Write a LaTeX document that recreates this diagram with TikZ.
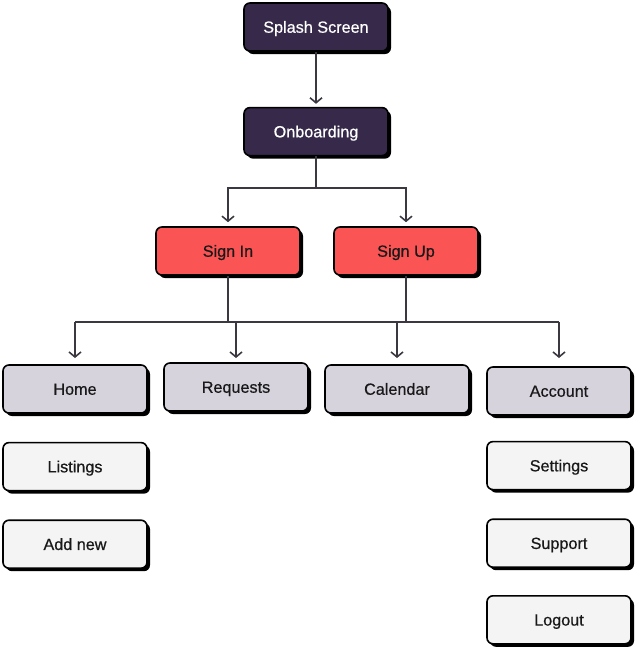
\documentclass[tikz,border=0pt]{standalone}
\usepackage{fontspec}
\setmainfont{Liberation Sans}
\newfontfamily\boxfont[FakeBold=0.6]{Liberation Sans}
\usetikzlibrary{positioning, arrows.meta}
\definecolor{plum}{HTML}{36294A}
\definecolor{coral}{HTML}{FB5454}
\definecolor{lilac}{HTML}{D7D3DD}
\definecolor{paper}{HTML}{F4F4F4}
\definecolor{wire}{HTML}{3C3841}
\begin{document}
\begin{tikzpicture}[x=1pt, y=1pt]
\tikzstyle{main}=[rectangle, rounded corners=6pt, minimum width=144pt, minimum height=48pt, text height=11.5pt, text depth=0pt, line width=1.6pt, draw=black, text=black!90, font=\fontsize{16.2}{19}\boxfont, preaction={fill=black, transform canvas={shift={(3pt,-3pt)}}}]
\tikzstyle{flow}=[main, fill=plum, text=white]
\tikzstyle{auth}=[main, fill=coral]
\tikzstyle{page}=[main, fill=lilac]
\tikzstyle{sub}=[main, fill=paper]
\tikzstyle{connect}=[-{Straight Barb[length=5pt, width=12pt]}, line width=1.6pt, draw=wire]
\tikzstyle{bus}=[line width=1.6pt, draw=wire]
    \useasboundingbox (0,0) rectangle (637,-649);
    \node[flow] (S) at (316,-27) {Splash Screen};
    \node[flow] (O) [below=55pt of S] {Onboarding};
    \node[auth] (SI) at (228,-251) {Sign In};
    \node[auth] (SU) [right=32.4pt of SI] {Sign Up};
    \node[page] (H) at (75,-389) {Home};
    \node[page] (R) [right=15.4pt of H, yshift=2pt] {Requests};
    \node[page] (C) [right=15.4pt of R, yshift=-2pt] {Calendar};
    \node[page] (A) [right=16.4pt of C, yshift=-2pt] {Account};
    \node[sub] (L) [below=28pt of H] {Listings};
    \node[sub] (N) [below=28pt of L] {Add new};
    \node[sub] (T) [below=25pt of A] {Settings};
    \node[sub] (P) [below=28pt of T] {Support};
    \node[sub] (G) [below=27pt of P] {Logout};
    \coordinate (split) at (0,-188);
    \coordinate (join) at (0,-322);
    \coordinate (tips) at (0,-358);
    \draw[connect, shorten >=3pt] (S) -- (O);
    \draw[bus] (O) -- (O |- split);
    \draw[connect, shorten >=4pt] (O |- split) -| (SI);
    \draw[connect, shorten >=4pt] (O |- split) -| (SU);
    \draw[bus] (SI) -- (SI |- join);
    \draw[bus] (SU) -- (SU |- join);
    \draw[bus] (H |- join) -- (A |- join);
    \foreach \n in {H, R, C, A}
        \draw[connect] (\n |- join) -- (\n |- tips);
\end{tikzpicture}
\end{document}
